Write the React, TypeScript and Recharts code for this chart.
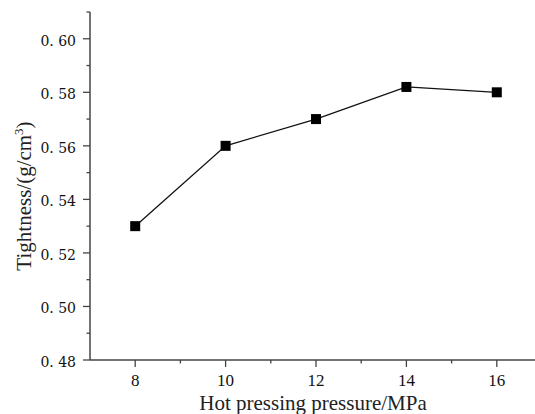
import { LineChart, Line, XAxis, YAxis } from "recharts";

const pressure = [8, 10, 12, 14, 16];
const tightness = [0.53, 0.56, 0.57, 0.582, 0.58];

const xMajorTicks = [8, 10, 12, 14, 16];
const xMinorTicks = [9, 11, 13, 15];
const yMajorTicks = [0.48, 0.5, 0.52, 0.54, 0.56, 0.58, 0.6];
const yMinorTicks = [0.49, 0.51, 0.53, 0.55, 0.57, 0.59, 0.61];
const yTickLabels = ["0. 48", "0. 50", "0. 52", "0. 54", "0. 56", "0. 58", "0. 60"];

const data = pressure.map((p, i) => ({ pressure: p, tightness: tightness[i] }));

const axisColor = "#444";
const majorLen = 7;
const minorLen = 3.5;
const serifA = "'Liberation Serif', 'DejaVu Serif', serif";
const serifB = "'DejaVu Serif', 'Liberation Serif', serif";

const isMajorY = (v: number) => yMajorTicks.some((t) => Math.abs(t - v) < 1e-6);
const isMajorX = (v: number) => xMajorTicks.includes(v);

function BottomTick(props: any) {
  const { x, y, payload } = props;
  const major = isMajorX(payload.value);
  return (
    <g>
      <line x1={x} y1={y} x2={x} y2={y + (major ? majorLen : minorLen)} stroke={axisColor} strokeWidth={1.3} />
      {major && (
        <text x={x} y={y + 26} textAnchor="middle" style={{ fontFamily: serifA, fontSize: 17 }} fill="#111">
          {payload.value}
        </text>
      )}
    </g>
  );
}

function TopTick(props: any) {
  const { x, y, payload } = props;
  const major = isMajorX(payload.value);
  return <line x1={x} y1={y} x2={x} y2={y + (major ? majorLen : minorLen)} stroke={axisColor} strokeWidth={1.3} />;
}

function LeftTick(props: any) {
  const { x, y, payload } = props;
  const major = isMajorY(payload.value);
  const idx = yMajorTicks.findIndex((t) => Math.abs(t - payload.value) < 1e-6);
  return (
    <g>
      <line x1={x} y1={y} x2={x - (major ? majorLen : minorLen)} y2={y} stroke={axisColor} strokeWidth={1.3} />
      {major && (
        <text x={x - 14} y={y + 7} textAnchor="end" style={{ fontFamily: serifB, fontSize: 14 }} fill="#111">
          {yTickLabels[idx]}
        </text>
      )}
    </g>
  );
}

function RightTick(props: any) {
  const { x, y, payload } = props;
  const major = isMajorY(payload.value);
  return <line x1={x} y1={y} x2={x - (major ? majorLen : minorLen)} y2={y} stroke={axisColor} strokeWidth={1.3} />;
}

function SquareDot(props: any) {
  const { cx, cy } = props;
  if (cx == null || cy == null) return null;
  return <rect x={cx - 5} y={cy - 5} width={10} height={10} fill="#000" />;
}

function XTitle(props: any) {
  const vb = props.viewBox;
  return (
    <text x={vb.x + vb.width / 2 - 3} y={vb.y + 50} textAnchor="middle" style={{ fontFamily: serifA, fontSize: 21 }} fill="#222">
      Hot pressing pressure/MPa
    </text>
  );
}

function YTitle(props: any) {
  const vb = props.viewBox;
  const cx = 31;
  const cy = vb.y + vb.height / 2 + 10;
  return (
    <text
      x={cx}
      y={cy}
      transform={`rotate(-90 ${cx} ${cy})`}
      textAnchor="middle"
      style={{ fontFamily: serifA, fontSize: 21 }}
      fill="#222"
    >
      Tightness/(g/cm
      <tspan fontSize={13} dy={-8}>3</tspan>
      <tspan dy={8}>)</tspan>
    </text>
  );
}

export default function App() {
  const xTicks = [...xMajorTicks, ...xMinorTicks].sort((a, b) => a - b);
  const yTicks = [...yMajorTicks, ...yMinorTicks].sort((a, b) => a - b);
  return (
    <div style={{ position: "absolute", left: 0, top: 0, width: 535, height: 414, overflow: "hidden", background: "#fff" }}>
      <LineChart width={552} height={414} data={data} margin={{ top: 12, right: 10, bottom: 0, left: 0 }}>
        <XAxis
          xAxisId="bottom"
          dataKey="pressure"
          type="number"
          domain={[7, 17]}
          ticks={xTicks}
          height={54}
          tickSize={0}
          tickMargin={0}
          tickLine={false}
          tick={<BottomTick />}
          axisLine={{ stroke: axisColor, strokeWidth: 1.5 }}
          interval={0}
          label={<XTitle />}
        />
        <XAxis
          xAxisId="top"
          orientation="top"
          dataKey="pressure"
          type="number"
          domain={[7, 17]}
          ticks={xTicks}
          height={0}
          tickSize={0}
          tickMargin={0}
          tickLine={false}
          tick={<TopTick />}
          axisLine={{ stroke: axisColor, strokeWidth: 1.5 }}
          interval={0}
        />
        <YAxis
          yAxisId="left"
          type="number"
          domain={[0.48, 0.61]}
          ticks={yTicks}
          width={90}
          tickSize={0}
          tickMargin={0}
          tickLine={false}
          tick={<LeftTick />}
          axisLine={{ stroke: axisColor, strokeWidth: 1.5 }}
          interval={0}
          label={<YTitle />}
        />
        <YAxis
          yAxisId="right"
          orientation="right"
          type="number"
          domain={[0.48, 0.61]}
          ticks={yTicks}
          width={0}
          tickSize={0}
          tickMargin={0}
          tickLine={false}
          tick={<RightTick />}
          axisLine={{ stroke: axisColor, strokeWidth: 1.5 }}
          interval={0}
        />
        <Line
          xAxisId="bottom"
          yAxisId="left"
          dataKey="tightness"
          stroke="#111"
          strokeWidth={1.3}
          dot={<SquareDot />}
          activeDot={false}
          isAnimationActive={false}
        />
      </LineChart>
    </div>
  );
}
